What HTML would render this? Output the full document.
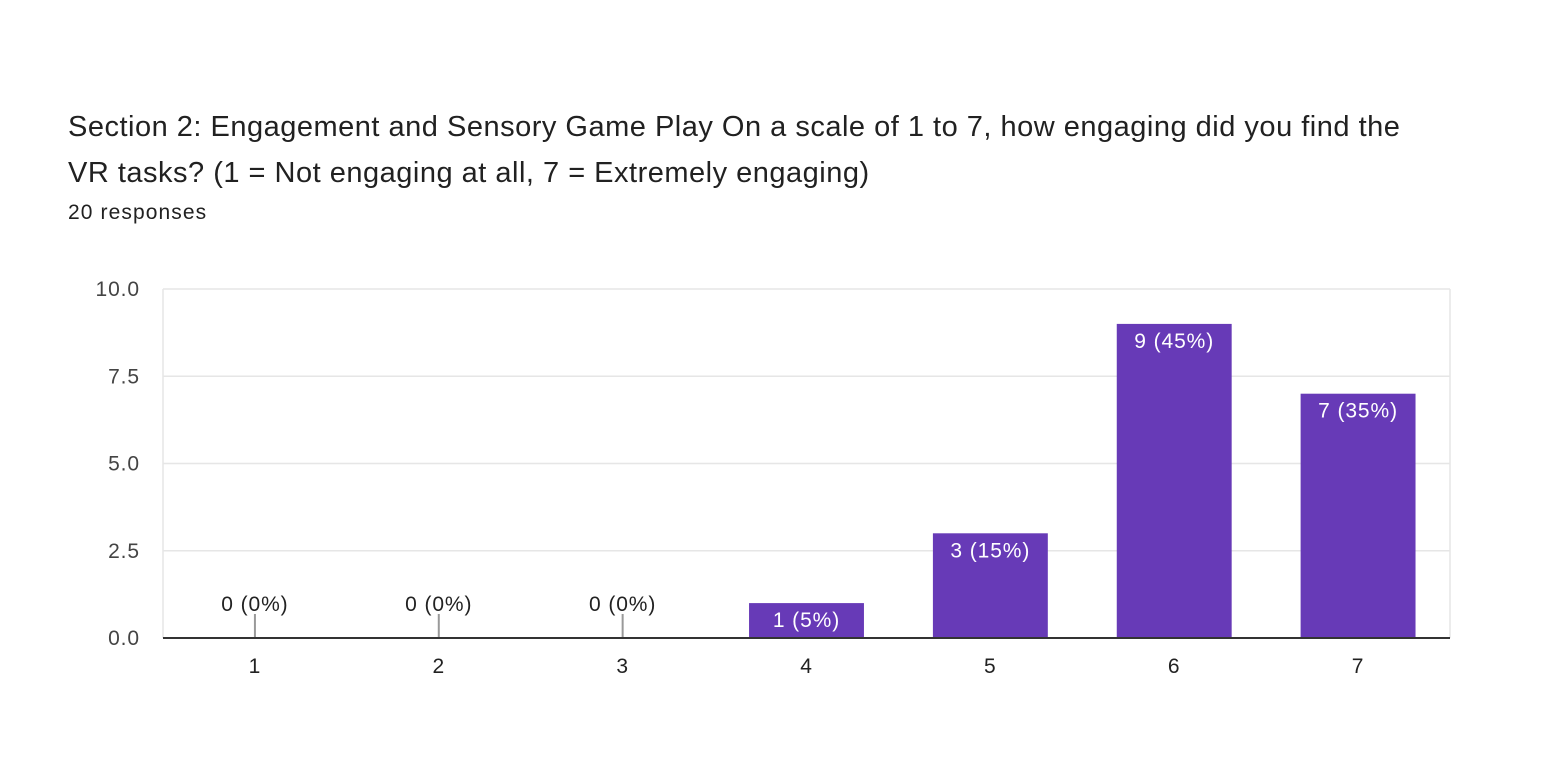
<!DOCTYPE html>
<html><head><meta charset="utf-8"><style>
body{margin:0;background:#fff;width:1552px;height:758px;overflow:hidden;font-family:"Liberation Sans",Arial,sans-serif;}
#title{position:absolute;left:68px;top:104px;font-size:29px;letter-spacing:0.5px;line-height:46px;color:#212121;white-space:nowrap;}
#resp{position:absolute;left:68px;top:201px;font-size:21px;letter-spacing:1.1px;color:#212121;}
svg{position:absolute;left:0;top:0;}
svg text{font-size:21px;letter-spacing:0.9px;}
</style></head><body>
<div id="title">Section 2: Engagement and Sensory Game Play On a scale of 1 to 7, how engaging did you find the<br>VR tasks? (1 = Not engaging at all, 7 = Extremely engaging)</div>
<div id="resp">20 responses</div>
<svg id="chart" width="1552" height="758"></svg>
<script>
const categories=["1","2","3","4","5","6","7"];
const counts=[0,0,0,1,3,9,7];
const percents=["0%","0%","0%","5%","15%","45%","35%"];
const yTicks=[0,2.5,5,7.5,10];
const yTickLabels=["0.0","2.5","5.0","7.5","10.0"];
const L=163,R=1450,T=289,B=638,yMax=10;
const NS="http://www.w3.org/2000/svg";
const svg=document.getElementById('chart');
const band=(R-L)/categories.length;
function xC(i){return L+band*(i+0.5);}
function y(v){return B-(v/yMax)*(B-T);}
function mk(tag,attrs,parent){const e=document.createElementNS(NS,tag);for(const k in attrs)e.setAttribute(k,attrs[k]);(parent||svg).appendChild(e);return e;}
yTicks.forEach((t,i)=>{
  const g=mk('line',{x1:L,x2:R,y1:y(t),y2:y(t),stroke:'#e6e6e6','stroke-width':1.5});
  
  
  const tx=mk('text',{x:140,y:y(t)+7,'text-anchor':'end',fill:'#444'});
  tx.textContent=yTickLabels[i];
  
  
});
const lv=mk('line',{x1:L,x2:L,y1:T,y2:B,stroke:'#e6e6e6','stroke-width':1.5});
const rv=mk('line',{x1:R,x2:R,y1:T,y2:B,stroke:'#e6e6e6','stroke-width':1.5});
const bw=band*0.625;
categories.forEach((c,i)=>{
  const v=counts[i];
  const lbl=v+" ("+percents[i]+")";
  if(v>0){
    const r=mk('rect',{x:xC(i)-bw/2,y:y(v),width:bw,height:B-y(v),fill:'#673ab7'});
    
    
    const t=mk('text',{x:xC(i),y:y(v)+24,'text-anchor':'middle',fill:'#fff'});
    t.textContent=lbl;
    
    
  } else {
    const l=mk('line',{x1:xC(i),x2:xC(i),y1:B-24,y2:B,stroke:'#999','stroke-width':2});
    
    
    const t=mk('text',{x:xC(i),y:B-27,'text-anchor':'middle',fill:'#222'});
    t.textContent=lbl;
    
    
  }
  const xt=mk('text',{x:xC(i),y:673,'text-anchor':'middle',fill:'#222'});
  xt.textContent=c;
  
  
});
const ax=mk('line',{x1:L,x2:R,y1:B,y2:B,stroke:'#333','stroke-width':2});


</script>
</body></html>
